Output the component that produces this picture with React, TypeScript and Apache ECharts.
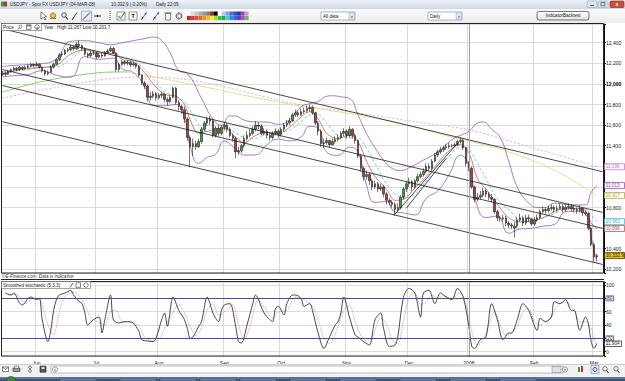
import { useEffect, useRef } from 'react';
import * as echarts from 'echarts';

// ---------------- data ----------------
const firstDay = '2007-05-16';
const lastDay = '2008-03-04';
const padSlots = ['pad-1', 'pad-2'];
const monthLabels = ['Jun', 'Jul', 'Aug', 'Sep', 'Oct', 'Nov', 'Dec', '2008', 'Feb', 'Mar'];
const yearBoundary = '2008';

const opens = [
  12090,12105,12095,12120,12138,12152,12140,12162,12148,12160,
  12172,12188,12178,12192,12160,12128,12098,12112,12165,12192,
  12235,12282,12290,12325,12332,12358,12342,12385,12372,12345,
  12290,12275,12300,12300,12262,12280,12272,12305,12320,12345,
  12300,12140,12190,12215,12200,12210,12185,12195,12170,12085,
  12010,11980,11870,11880,11905,11865,11890,11900,11850,11830,
  11870,11960,11820,11780,11750,11660,11480,11390,11420,11390,
  11440,11560,11620,11660,11640,11500,11570,11520,11580,11600,
  11560,11500,11470,11340,11350,11400,11470,11500,11520,11560,
  11600,11590,11520,11540,11500,11480,11520,11540,11510,11560,
  11600,11620,11640,11700,11720,11700,11730,11740,11760,11770,
  11720,11620,11540,11420,11430,11450,11410,11440,11460,11480,
  11520,11540,11500,11560,11500,11450,11300,11180,11100,11120,
  11060,11000,11030,10980,11000,10930,10870,10850,10830,10780,
  10800,10900,10980,11030,11050,11000,11060,11100,11120,11150,
  11200,11180,11250,11310,11340,11360,11380,11390,11400,11400,
  11410,11440,11450,11380,11230,11180,11000,10880,10900,10920,
  10960,10930,10900,10880,10760,10700,10690,10700,10650,10630,
  10600,10620,10680,10700,10650,10700,10690,10640,10680,10700,
  10760,10780,10770,10790,10800,10780,10790,10810,10780,10800,
  10810,10790,10780,10770,10790,10750,10740,10600,10440,10320,
];
const closes = [
  12105,12095,12120,12138,12152,12140,12162,12148,12160,12172,
  12188,12178,12192,12160,12128,12098,12112,12165,12192,12235,
  12282,12290,12325,12332,12358,12342,12385,12372,12345,12290,
  12275,12300,12300,12262,12280,12272,12305,12320,12345,12300,
  12140,12190,12215,12200,12210,12185,12195,12170,12085,12010,
  11980,11870,11880,11905,11865,11890,11900,11850,11830,11870,
  11960,11820,11780,11750,11660,11480,11390,11420,11390,11440,
  11560,11620,11660,11640,11500,11570,11520,11580,11600,11560,
  11500,11470,11340,11350,11400,11470,11500,11520,11560,11600,
  11590,11520,11540,11500,11480,11520,11540,11510,11560,11600,
  11620,11640,11700,11720,11700,11730,11740,11760,11770,11720,
  11620,11540,11420,11430,11450,11410,11440,11460,11480,11520,
  11540,11500,11560,11500,11450,11300,11180,11100,11120,11060,
  11000,11030,10980,11000,10930,10870,10850,10830,10780,10800,
  10900,10980,11030,11050,11000,11060,11100,11120,11150,11200,
  11180,11250,11310,11340,11360,11380,11390,11400,11400,11410,
  11440,11450,11380,11230,11180,11000,10880,10900,10920,10960,
  10930,10900,10880,10760,10700,10690,10700,10650,10630,10620,
  10620,10680,10700,10650,10700,10690,10640,10680,10700,10760,
  10780,10770,10790,10800,10780,10790,10810,10780,10800,10810,
  10790,10780,10770,10790,10750,10740,10600,10440,10320,10333,
];
const lows = [
  12078,12075,12088,12110,12125,12122,12132,12130,12140,12150,
  12160,12160,12170,12150,12110,12080,12085,12105,12150,12180,
  12220,12262,12280,12305,12318,12320,12330,12340,12320,12275,
  12250,12262,12280,12240,12250,12250,12265,12295,12310,12290,
  12120,12120,12175,12180,12180,12160,12170,12150,12070,11990,
  11950,11830,11840,11860,11840,11850,11860,11820,11790,11810,
  11860,11800,11740,11710,11620,11450,11190,11300,11360,11380,
  11420,11540,11590,11600,11480,11480,11490,11500,11550,11530,
  11480,11440,11280,11310,11330,11380,11450,11480,11500,11540,
  11560,11500,11500,11470,11450,11460,11500,11480,11490,11540,
  11580,11600,11630,11680,11680,11690,11710,11720,11730,11700,
  11600,11500,11390,11380,11410,11380,11400,11420,11440,11460,
  11490,11470,11480,11470,11420,11280,11150,11060,11070,11020,
  10970,10980,10950,10960,10900,10830,10820,10800,10720,10760,
  10780,10880,10950,11000,10960,10980,11040,11080,11100,11130,
  11150,11160,11240,11290,11320,11340,11360,11370,11380,11390,
  11400,11420,11360,11200,11150,10980,10850,10860,10880,10900,
  10900,10870,10850,10740,10670,10660,10660,10620,10600,10590,
  10510,10600,10660,10620,10630,10660,10620,10620,10660,10690,
  10740,10740,10750,10770,10750,10760,10780,10750,10760,10780,
  10760,10750,10740,10750,10720,10720,10580,10420,10270,10290,
];
const highs = [
  12125,12122,12135,12150,12170,12165,12175,12170,12178,12190,
  12205,12200,12215,12200,12170,12140,12130,12180,12210,12250,
  12300,12315,12340,12350,12380,12370,12405,12420,12385,12355,
  12305,12318,12330,12310,12300,12295,12320,12340,12365,12360,
  12310,12205,12235,12230,12230,12225,12215,12205,12185,12095,
  12030,11995,11920,11930,11920,11910,11925,11915,11870,11890,
  11975,11970,11840,11800,11780,11680,11500,11470,11450,11470,
  11580,11640,11680,11690,11660,11590,11600,11600,11630,11620,
  11580,11520,11490,11390,11420,11500,11540,11560,11590,11640,
  11630,11610,11570,11560,11520,11540,11570,11560,11580,11620,
  11650,11670,11720,11750,11740,11760,11770,11790,11800,11790,
  11730,11640,11560,11470,11480,11460,11470,11490,11510,11540,
  11570,11560,11590,11570,11520,11460,11320,11200,11160,11140,
  11080,11060,11050,11030,11020,10950,10890,10870,10850,10840,
  10920,11000,11060,11090,11070,11080,11130,11150,11180,11230,
  11230,11270,11330,11360,11390,11400,11420,11430,11420,11430,
  11460,11480,11470,11390,11250,11200,11010,10940,10960,10990,
  10980,10950,10930,10890,10780,10720,10730,10720,10670,10650,
  10660,10710,10740,10720,10730,10730,10700,10710,10730,10780,
  10810,10800,10820,10830,10820,10820,10840,10830,10830,10840,
  10830,10820,10800,10820,10800,10770,10760,10610,10460,10350,
];

// indicator lines, [day index, value]
const bbUpper = [[0,12170],[4,12180],[9,12187],[14,12197],[19,12245],[24,12413],[29,12420],[34,12400],[38,12380],[42,12400],[46,12420],[50,12440],[53,12455],[56,12420],[59,12300],[62,12130],[65,12100],[70,11860],[74,11660],[77,11600],[80,11690],[82,11688],[85,11649],[89,11631],[93,11630],[97,11608],[101,11655],[105,11778],[108,11808],[111,11830],[114,11880],[116,11885],[119,11875],[122,11860],[125,11700],[128,11520],[131,11380],[134,11260],[137,11180],[140,11160],[144,11200],[148,11260],[152,11320],[155,11380],[158,11460],[161,11500],[164,11540],[167,11620],[169,11630],[172,11560],[175,11480],[178,11250],[181,11000],[185,10844],[188,10800],[191,10800],[194,10843],[198,10830],[202,10825],[205,10826],[207,10947],[209,11013]];
const bbLower = [[0,12070],[4,12080],[9,12091],[14,12129],[19,12085],[24,12065],[29,12266],[34,12239],[39,12250],[42,12149],[46,12110],[50,11978],[53,11793],[57,11788],[61,11801],[64,11671],[66,11399],[69,11229],[72,11287],[75,11319],[78,11445],[82,11368],[85,11309],[89,11311],[93,11410],[97,11464],[101,11447],[105,11486],[108,11588],[111,11570],[114,11338],[118,11307],[122,11385],[125,11335],[128,11017],[131,10850],[135,10857],[138,10757],[141,10748],[145,10728],[149,10889],[153,10961],[157,11116],[161,11308],[164,11202],[167,10807],[170,10703],[174,10717],[178,10550],[182,10591],[186,10598],[190,10618],[194,10635],[198,10758],[202,10765],[205,10738],[207,10507],[209,10261]];
const bbMiddle = [[0,12120],[9,12139],[14,12163],[19,12165],[24,12239],[29,12332],[34,12315],[39,12296],[42,12263],[46,12230],[50,12144],[53,12049],[57,11924],[61,11877],[64,11831],[66,11739],[69,11609],[72,11537],[75,11519],[78,11569],[82,11528],[85,11479],[89,11471],[93,11520],[97,11536],[101,11551],[105,11632],[108,11698],[111,11700],[114,11618],[118,11497],[122,11479],[125,11475],[128,11377],[131,11230],[135,11027],[138,10933],[141,10892],[145,10928],[149,11059],[153,11171],[157,11296],[161,11388],[164,11366],[167,11227],[170,11083],[174,10883],[178,10780],[182,10675],[186,10658],[190,10698],[194,10739],[198,10786],[202,10791],[205,10782],[207,10727],[209,10663]];
const fastLine = [[0,12100],[9,12150],[14,12160],[19,12180],[24,12290],[29,12330],[34,12300],[39,12295],[42,12240],[46,12215],[50,12110],[53,12000],[57,11900],[61,11880],[64,11800],[66,11650],[69,11520],[72,11540],[75,11560],[78,11570],[82,11480],[85,11430],[89,11500],[93,11530],[97,11520],[101,11580],[105,11680],[108,11730],[111,11660],[114,11520],[118,11470],[122,11500],[125,11440],[128,11250],[131,11100],[135,10980],[138,10870],[141,10880],[145,10990],[149,11100],[153,11230],[157,11350],[161,11410],[164,11330],[167,11080],[170,10980],[174,10830],[178,10700],[182,10660],[186,10670],[190,10700],[194,10760],[198,10790],[202,10790],[205,10770],[207,10650],[209,10596]];
const ma50Rising = [[0,11921],[13,12018],[27,12086],[39,12116],[44,12116]];
const ma50Falling = [[44,12116],[59,12038],[73,11960],[88,11873],[105,11785],[123,11708],[141,11611],[158,11484],[176,11358],[194,11164],[209,10917]];
const ma200 = [[0,11863],[34,12038],[52,12067],[70,12018],[105,11795],[123,11727],[141,11650],[164,11553],[183,11407],[209,11196]];

// user-drawn trend lines: [day1, price1, day2, price2]
const trendLines = [
  [0, 12535, 211, 11148],
  [0, 12140, 211, 10753],
  [0, 11984, 211, 10598],
  [0, 11633, 211, 10247],
  [138, 10735, 160, 11424],
  [142, 10793, 156, 11278],
];

const stochK = [[1,88],[3,85],[4,88],[6,73],[7,70],[9,80],[10,82],[12,78],[13,80],[14,48],[16,15],[17,32],[18,62],[19,78],[20,85],[22,88],[24,92],[25,85],[27,75],[28,72],[29,58],[30,40],[32,48],[34,52],[35,28],[36,48],[38,85],[39,48],[41,43],[43,45],[44,45],[46,43],[48,30],[49,18],[51,16],[53,15],[54,20],[56,48],[57,58],[58,38],[60,82],[62,62],[64,48],[65,35],[66,20],[67,22],[69,38],[70,45],[72,82],[73,72],[74,58],[76,45],[77,62],[78,70],[80,72],[82,38],[83,15],[84,13],[86,40],[88,72],[89,85],[90,78],[92,58],[94,48],[95,45],[96,65],[97,68],[99,55],[100,72],[102,85],[103,85],[105,80],[106,68],[108,72],[109,62],[111,28],[113,5],[115,22],[117,40],[118,45],[119,58],[120,82],[122,52],[124,25],[125,22],[127,15],[129,10],[131,48],[133,58],[134,35],[136,8],[138,10],[139,22],[141,82],[143,95],[145,88],[147,52],[148,88],[150,92],[152,72],[154,88],[156,82],[158,78],[160,95],[162,82],[164,38],[165,8],[166,5],[168,18],[170,22],[172,72],[174,48],[176,18],[178,28],[179,28],[181,48],[183,72],[185,62],[188,32],[189,50],[191,45],[193,52],[194,75],[196,72],[198,78],[200,62],[201,62],[203,32],[205,52],[206,42],[207,15],[208,5],[209,12]];
const stochD = [[2,86],[5,86],[8,72],[11,80],[13,79],[16,40],[18,25],[20,60],[22,83],[25,89],[28,78],[31,52],[33,46],[36,40],[38,60],[40,62],[42,45],[45,44],[48,38],[50,22],[53,16],[55,18],[58,45],[59,52],[62,70],[64,58],[66,38],[68,24],[70,36],[72,62],[74,72],[76,55],[78,60],[81,70],[83,40],[85,18],[87,38],[90,78],[92,68],[95,50],[97,60],[100,62],[103,82],[106,78],[109,68],[111,48],[113,20],[115,12],[118,38],[120,62],[122,70],[124,45],[126,25],[128,16],[130,22],[133,50],[135,42],[137,18],[139,12],[141,45],[143,82],[145,88],[147,70],[149,75],[151,85],[153,80],[155,84],[158,80],[161,88],[163,70],[165,30],[167,10],[169,16],[171,40],[173,60],[175,40],[177,24],[179,28],[181,38],[183,60],[185,65],[187,45],[189,40],[191,46],[193,52],[195,68],[197,74],[199,72],[201,64],[203,45],[205,45],[207,35],[208,20],[209,10]];

const priceTags = [
  { value: 11196, text: '11,196', color: '#c866c8', fill: '#ffffff' },
  { value: 11013, text: '11,013', color: '#8a3ea8', fill: '#ffffff' },
  { value: 10917, text: '10,917', color: '#a8a020', fill: '#ffffff' },
  { value: 10663, text: '10,663', color: '#28b4d8', fill: '#ffffff' },
  { value: 10596, text: '10,596', color: '#b04838', fill: '#ffffff' },
  { value: 10332.9, text: '10,332.9', color: '#202020', fill: '#f4c800' },
];
const stochLastValue = 11.904;
const stochLevels = [80, 20];

// ---------------- helpers ----------------
const FONT = '"Liberation Sans", Arial, sans-serif';

function weekdays(a: string, b: string) {
  const out: string[] = [];
  const d = new Date(a + 'T00:00:00Z');
  const end = new Date(b + 'T00:00:00Z');
  while (d.getTime() <= end.getTime()) {
    const w = d.getUTCDay();
    if (w > 0 && w < 6) out.push(d.toISOString().slice(0, 10));
    d.setUTCDate(d.getUTCDate() + 1);
  }
  return out;
}

const dates = weekdays(firstDay, lastDay);
const monthStart = new Map<string, string>();
{
  let k = 0;
  dates.forEach((d, i) => {
    if (i > 0 && d.slice(5, 7) !== dates[i - 1].slice(5, 7)) monthStart.set(d, monthLabels[k++]);
  });
}
const categories = [...dates, ...padSlots];
const yearStartDate = [...monthStart.entries()].find(([, l]) => l === yearBoundary)?.[0];
const candles = dates.map((_, i) => [opens[i], closes[i], lows[i], highs[i]]);

const fmtPrice = (v: number) => v.toLocaleString('en-US');

function R(x: number, y: number, w: number, h: number, fill: any, stroke?: string, lw = 1, r = 0) {
  return { type: 'rect', z: 50, silent: true, shape: { x, y, width: w, height: h, r }, style: { fill, stroke: stroke || null, lineWidth: lw } };
}
function T(x: number, y: number, text: string, o: any = {}) {
  return {
    type: 'text', z: 60, silent: true, x, y,
    style: {
      text, fontSize: o.size || 5, fontFamily: FONT, fill: o.color || '#1a1a1a',
      align: o.align || 'left', verticalAlign: 'middle',
      fontStyle: o.italic ? 'italic' : 'normal', fontWeight: o.bold ? 'bold' : 'normal',
    },
  };
}
function Ln(x1: number, y1: number, x2: number, y2: number, stroke: string, lw = 1) {
  return { type: 'line', z: 55, silent: true, shape: { x1, y1, x2, y2 }, style: { stroke, lineWidth: lw } };
}
function C(cx: number, cy: number, r: number, fill: any, stroke?: string, lw = 0.8) {
  return { type: 'circle', z: 55, silent: true, shape: { cx, cy, r }, style: { fill, stroke: stroke || null, lineWidth: lw } };
}

function chrome() {
  const g: any[] = [];
  // title bar
  g.push(R(0, 0, 625, 9, new echarts.graphic.LinearGradient(0, 0, 0, 1, [{ offset: 0, color: '#eef3f9' }, { offset: 1, color: '#cdd8e6' }])));
  g.push(R(1, 1.5, 3, 5, '#3a9a3a'), R(4, 1.5, 3, 5, '#c03030'));
  g.push(T(10, 4.6, 'USDJPY - Spot FX USD/JPY (04-MAR-08)', { size: 4.5 }));
  g.push(T(111, 4.6, '10,332.9 (-0.20%)', { size: 4.5 }));
  g.push(T(156, 4.6, 'Daily 22:09', { size: 4.5 }));
  g.push(R(587, 1, 10, 6.5, '#dbe6f3', '#8ea3bf', 0.6, 1), Ln(590, 5.5, 594, 5.5, '#333', 0.8));
  g.push(R(598, 1, 10, 6.5, '#dbe6f3', '#8ea3bf', 0.6, 1), R(601, 2.5, 4, 3.2, null, '#333', 0.7));
  g.push(R(610, 1, 14, 6.5, '#c9503f', '#8a2a20', 0.6, 1), T(617, 4.3, 'x', { size: 5, color: '#fff', align: 'center', bold: true }));
  // toolbar
  g.push(R(0, 9, 625, 14, new echarts.graphic.LinearGradient(0, 0, 0, 1, [{ offset: 0, color: '#fbfbfb' }, { offset: 1, color: '#ececec' }])));
  g.push({ type: 'polygon', z: 55, silent: true, shape: { points: [[41, 12], [41, 19], [43, 17.5], [45, 20], [46, 19.5], [44.3, 17], [46.5, 16.5]] }, style: { fill: '#fff', stroke: '#222', lineWidth: 0.6 } });
  g.push(C(53, 15.5, 2.6, '#f2c230', '#8a6a10'), Ln(50, 18.5, 56, 18.5, '#8a6a10', 0.8));
  g.push(C(64, 15, 2.3, '#dfe9f5', '#333'), Ln(65.7, 16.8, 68, 19.5, '#333', 1.1));
  g.push(Ln(72, 20, 77, 12.5, '#222', 0.9));
  g.push(R(81.5, 11, 10, 10, '#e8eef8', '#7a8fb0', 0.7), Ln(83, 19.5, 90, 12.5, '#222', 0.9));
  g.push(Ln(94, 16, 101, 16, '#222', 0.9), C(97.5, 16, 0.9, '#222'));
  g.push({ type: 'line', z: 55, silent: true, shape: { x1: 110, y1: 11, x2: 110, y2: 21 }, style: { stroke: '#333', lineWidth: 0.8, lineDash: [1, 1] } });
  g.push(R(117, 12, 8, 8, '#fff', '#555', 0.6), Ln(118.5, 16, 120.5, 18.5, '#1a9a1a', 1.1), Ln(120.5, 18.5, 125, 12, '#1a9a1a', 1.1));
  g.push(R(129, 12, 8, 8, '#fff', '#555', 0.6), T(133, 16.2, 'T', { size: 6, align: 'center', bold: true }));
  g.push(Ln(141, 20, 147, 12, '#3050a0', 0.8), C(142.5, 18, 0.8, '#3050a0'), C(145.5, 14, 0.8, '#3050a0'));
  g.push(Ln(153, 20, 159, 12, '#3050a0', 0.8), C(155, 17.5, 0.8, '#3050a0'), C(158, 13.5, 0.8, '#3050a0'));
  g.push(R(165.5, 13.5, 5, 6.5, '#f4f4f4', '#444', 0.6), Ln(164.5, 13, 171.5, 13, '#444', 0.8));
  g.push(C(179, 16, 3, '#bbb', '#333', 0.7), C(179, 16, 1.1, '#fff'));
  const row1 = ['#f4f4f4', '#dcdcdc', '#c4c4c4', '#acacac', '#949494', '#7c7c7c', '#a02828', '#000000', '#ffffff', '#b8c8f0', '#8aa0e0', '#5070d0', '#3050c0', '#2038a0', '#9050b0', '#e090d8'];
  const row2 = ['#b03030', '#d04040', '#e05050', '#e07030', '#f09030', '#f0c030', '#f0f040', '#a0e040', '#40c040', '#30a060', '#40d0d0', '#3090d0', '#4060e0', '#6040c0', '#c040c0', '#60c060'];
  row1.forEach((c, i) => g.push(R(187 + i * 3.85, 11.5, 3.85, 4.2, c)));
  row2.forEach((c, i) => g.push(R(187 + i * 3.85, 15.9, 3.85, 4.2, c)));
  g.push(R(321, 12, 34, 8, '#fff', '#7f9db9', 0.7), T(323, 16.1, 'All data', { size: 4.6 }), R(349, 12.8, 5.3, 6.4, '#e3ebf6', '#7f9db9', 0.5), T(351.7, 16, 'v', { size: 4, align: 'center' }));
  g.push(R(428, 12, 34, 8, '#fff', '#7f9db9', 0.7), T(430, 16.1, 'Daily', { size: 4.6 }), R(456, 12.8, 5.3, 6.4, '#e3ebf6', '#7f9db9', 0.5), T(458.7, 16, 'v', { size: 4, align: 'center' }));
  g.push(R(537, 11.5, 52, 8.5, new echarts.graphic.LinearGradient(0, 0, 0, 1, [{ offset: 0, color: '#ffffff' }, { offset: 1, color: '#e4e4e4' }]), '#555', 0.8, 2), T(563, 15.9, 'IndicatorBacktest', { size: 4.6, align: 'center' }));
  // main panel frame + header
  g.push(R(1.5, 23.5, 602, 249.5, null, '#222', 1));
  g.push(R(1.5, 23.5, 40, 7, '#fff', '#666', 0.6));
  g.push(T(3, 27.2, 'Price', { size: 4.8 }));
  g.push(C(20.5, 26.6, 1.5, '#fff', '#333', 0.6), Ln(19.5, 27.8, 18, 29.5, '#333', 0.8));
  g.push(R(26.5, 24.8, 4.5, 4.6, '#fff', '#333', 0.6), Ln(26.5, 25.8, 31, 25.8, '#333', 0.8));
  g.push(C(37, 27.1, 2.3, '#fff', '#333', 0.6), T(37, 27.2, 'x', { size: 4, align: 'center', bold: true }));
  g.push(T(44, 27.2, 'Year : High 11,267 Low 10,201.7', { size: 4.6 }));
  // copyright + stochastic frame
  g.push(T(2, 276.5, '\u00a9E-Finance.com  Data is indicative', { size: 4.6, italic: true, color: '#333' }));
  g.push(Ln(1, 279.5, 604, 279.5, '#222', 1));
  g.push(R(1.5, 281.5, 602, 74.5, null, '#222', 1));
  g.push(R(1.5, 281.5, 89, 7, '#fff', '#666', 0.6));
  g.push(T(3, 285.2, 'Smoothed stochastic (5,3,3)', { size: 4.6 }));
  g.push(Ln(70, 287.5, 73, 283, '#333', 0.8));
  g.push(R(76, 282.8, 4.5, 4.6, '#fff', '#333', 0.6));
  g.push(C(86, 285.1, 2.2, '#fff', '#333', 0.6));
  // bottom toolbar
  g.push(R(0, 364, 625, 13, '#f1f1f1'), Ln(0, 364.5, 625, 364.5, '#c8c8c8', 0.8));
  g.push(R(2.5, 367, 6, 4.5, '#fff', '#333', 0.6), Ln(2.5, 367, 5.5, 369.5, '#333', 0.6), Ln(8.5, 367, 5.5, 369.5, '#333', 0.6));
  g.push(R(13, 368, 7, 3.5, '#999', '#333', 0.6), R(14.5, 366, 4, 2.3, '#fff', '#333', 0.5));
  g.push(C(30, 367.5, 1.3, null, '#333', 0.7), C(30, 371, 1.3, null, '#333', 0.7));
  g.push(R(40, 366.2, 6, 6, '#556', '#222', 0.6), R(41.5, 367, 3, 2, '#ddd'));
  g.push(R(51, 366, 512, 7, '#fff', '#a0a0a0', 0.7));
  g.push(C(55, 369.5, 2.6, '#eef', '#666', 0.6), T(55, 369.6, '<', { size: 4, align: 'center' }));
  g.push(R(552, 366.5, 9, 6, '#dde3ec', '#888', 0.6), C(565, 369.5, 2.6, '#eef', '#666', 0.6), T(565, 369.6, '>', { size: 4, align: 'center' }));
  g.push(R(578, 367, 2, 5, '#3a9a3a'), R(581, 366, 2, 6, '#c03030'));
  g.push(R(591, 365.5, 8, 8, '#dfe9f7', '#6a86b0', 0.6), C(595, 369.5, 2, null, '#223', 0.8));
  g.push(C(605, 368.8, 2.2, '#fff', '#333', 0.7), Ln(606.5, 370.5, 608.5, 373, '#333', 1));
  g.push(C(616, 368.8, 2.2, '#fff', '#333', 0.7), Ln(617.5, 370.5, 619.5, 373, '#333', 1));
  // taskbar
  g.push(R(0, 377, 625, 4, new echarts.graphic.LinearGradient(0, 0, 0, 1, [{ offset: 0, color: '#6d85ab' }, { offset: 1, color: '#2b4670' }])));
  g.push(C(11, 381, 4.5, '#3f8a3a', '#1c3c1a', 0.6));
  [60, 120, 160, 200, 240, 290, 340, 400, 450, 500].forEach((x) => g.push(R(x, 377.8, 36, 3.2, '#5d79a6', '#3b5580', 0.5)));
  return g;
}

export default function App() {
  const ref = useRef<HTMLDivElement>(null);
  useEffect(() => {
    if (!ref.current) return;
    const chart = echarts.init(ref.current, null, { renderer: 'svg' });
    const lineSeries = (data: number[][], color: string, opts: any = {}) => ({
      type: 'line', xAxisIndex: 0, yAxisIndex: 0, data, showSymbol: false, symbol: 'none', smooth: opts.smooth || 0.35,
      z: 2, silent: true,
      lineStyle: { color, width: opts.width || 0.8, type: opts.type || 'solid', opacity: opts.opacity || 1 },
    });
    const coveredByTag = (v: number) => priceTags.some((t) => Math.abs(t.value - v) < 45);
    const option: any = {
      animation: false,
      backgroundColor: '#ffffff',
      grid: [
        { left: 1, right: 21, top: 24, height: 249, containLabel: false, outerBoundsMode: 'none' },
        { left: 1, right: 21, top: 282, height: 74, containLabel: false, outerBoundsMode: 'none' },
      ],
      xAxis: [
        {
          type: 'category', gridIndex: 0, data: categories, boundaryGap: true,
          axisLine: { show: false }, axisTick: { show: false }, axisLabel: { show: false },
          splitLine: { show: true, interval: (_i: number, v: string) => monthStart.has(v), lineStyle: { color: '#d8d8d8', width: 1 } },
        },
        {
          type: 'category', gridIndex: 1, data: categories, boundaryGap: true,
          axisLine: { show: false }, axisTick: { show: false },
          axisLabel: {
            show: true, interval: (_i: number, v: string) => monthStart.has(v),
            formatter: (v: string) => monthStart.get(v) || '', fontSize: 5, fontFamily: FONT, color: '#222', margin: 4,
          },
          splitLine: { show: true, interval: (_i: number, v: string) => monthStart.has(v), lineStyle: { color: '#d8d8d8', width: 1 } },
        },
      ],
      yAxis: [
        {
          type: 'value', gridIndex: 0, position: 'right', min: 10164, max: 12582, minInterval: 200, maxInterval: 200, scale: true,
          axisLine: { show: true, lineStyle: { color: '#111', width: 1 } },
          axisTick: { show: true, length: 2, lineStyle: { color: '#111' } },
          axisLabel: {
            fontSize: 5, fontFamily: FONT, color: '#222', margin: 2,
            formatter: (v: number) => {
              if (Math.abs(v % 200) > 1e-6 || coveredByTag(v)) return '';
              return v === 12000 ? '{b|' + fmtPrice(v) + '}' : fmtPrice(v);
            },
            rich: { b: { fontSize: 5, fontFamily: FONT, fontWeight: 'bold', color: '#000' } },
          },
          splitLine: { show: true, lineStyle: { color: '#dcdcdc', width: 1 } },
        },
        {
          type: 'value', gridIndex: 1, position: 'right', min: -6.5, max: 104.5, minInterval: 20, maxInterval: 20, scale: true,
          axisLine: { show: true, lineStyle: { color: '#111', width: 1 } },
          axisTick: { show: true, length: 2, lineStyle: { color: '#111' } },
          axisLabel: {
            fontSize: 5, fontFamily: FONT, color: '#222', margin: 2,
            formatter: (v: number) => {
              if (Math.abs(v % 20) > 1e-6 || v < 0 || v > 100) return '';
              return stochLevels.includes(v) ? '{box|' + v + '}' : String(v);
            },
            rich: { box: { fontSize: 5, fontFamily: FONT, color: '#222', borderColor: '#3a3a8a', borderWidth: 0.7, padding: [0, 1, 0, 1] } },
          },
          splitLine: { show: true, lineStyle: { color: '#dcdcdc', width: 1 } },
        },
      ],
      series: [
        lineSeries(ma200, '#e08ee0', { type: [2, 2] }),
        lineSeries(ma50Rising, '#6cc04a'),
        lineSeries(ma50Falling, '#dcdc6a'),
        lineSeries(bbUpper, '#9458b4', { smooth: 0.5 }),
        lineSeries(bbLower, '#9458b4', { smooth: 0.5 }),
        lineSeries(bbMiddle, '#52c4e2', { type: [3, 2] }),
        lineSeries(fastLine, '#c65a48'),
        {
          type: 'candlestick', xAxisIndex: 0, yAxisIndex: 0, data: candles, barWidth: 2, z: 3, silent: true,
          itemStyle: { color: '#43a043', color0: '#a84444', borderColor: '#1b1b1b', borderColor0: '#1b1b1b', borderWidth: 0.6 },
          markLine: {
            silent: true, symbol: ['none', 'none'], label: { show: false }, animation: false,
            lineStyle: { color: '#1a1a1a', width: 0.8, type: 'solid' },
            data: [
              ...trendLines.map(([x1, p1, x2, p2]) => [{ coord: [x1, p1] }, { coord: [x2, p2] }]),
              { xAxis: yearStartDate, lineStyle: { color: '#a0a0a0', width: 1, type: 'solid' } },
            ],
          },
        },
        {
          type: 'line', xAxisIndex: 1, yAxisIndex: 1, data: stochD, showSymbol: false, symbol: 'none', smooth: 0.3, silent: true, z: 2,
          lineStyle: { color: '#d87878', width: 0.8, type: [1, 1] },
        },
        {
          type: 'line', xAxisIndex: 1, yAxisIndex: 1, data: stochK, showSymbol: false, symbol: 'none', smooth: 0.3, silent: true, z: 3,
          lineStyle: { color: '#1a1a1a', width: 0.8 },
          markLine: {
            silent: true, symbol: ['none', 'none'], label: { show: false }, animation: false,
            data: [
              ...stochLevels.map((v) => ({ yAxis: v, lineStyle: { color: '#4a4a9a', width: 1, type: 'solid' } })),
              { xAxis: yearStartDate, lineStyle: { color: '#a0a0a0', width: 1, type: 'solid' } },
            ],
          },
        },
      ],
    };
    chart.setOption(option);

    const tags: any[] = [];
    priceTags.forEach((t) => {
      const y = chart.convertToPixel({ yAxisIndex: 0 }, t.value) as number;
      tags.push(R(604.5, y - 3, 20, 6, t.fill, t.color, 0.7));
      tags.push(T(605.8, y + 0.1, t.text, { size: 4.6, color: t.color === '#202020' ? '#111' : t.color }));
    });
    const ys = chart.convertToPixel({ yAxisIndex: 1 }, stochLastValue) as number;
    tags.push(R(604.5, ys - 2.8, 17, 5.6, '#fff', '#222', 0.7));
    tags.push(T(605.8, ys + 0.1, stochLastValue.toFixed(3), { size: 4.6 }));
    chart.setOption({ graphic: { elements: [...chrome(), ...tags] } });

    return () => chart.dispose();
  }, []);
  return <div ref={ref} style={{ position: 'fixed', left: 0, top: 0, width: 625, height: 381, background: '#fff' }} />;
}
